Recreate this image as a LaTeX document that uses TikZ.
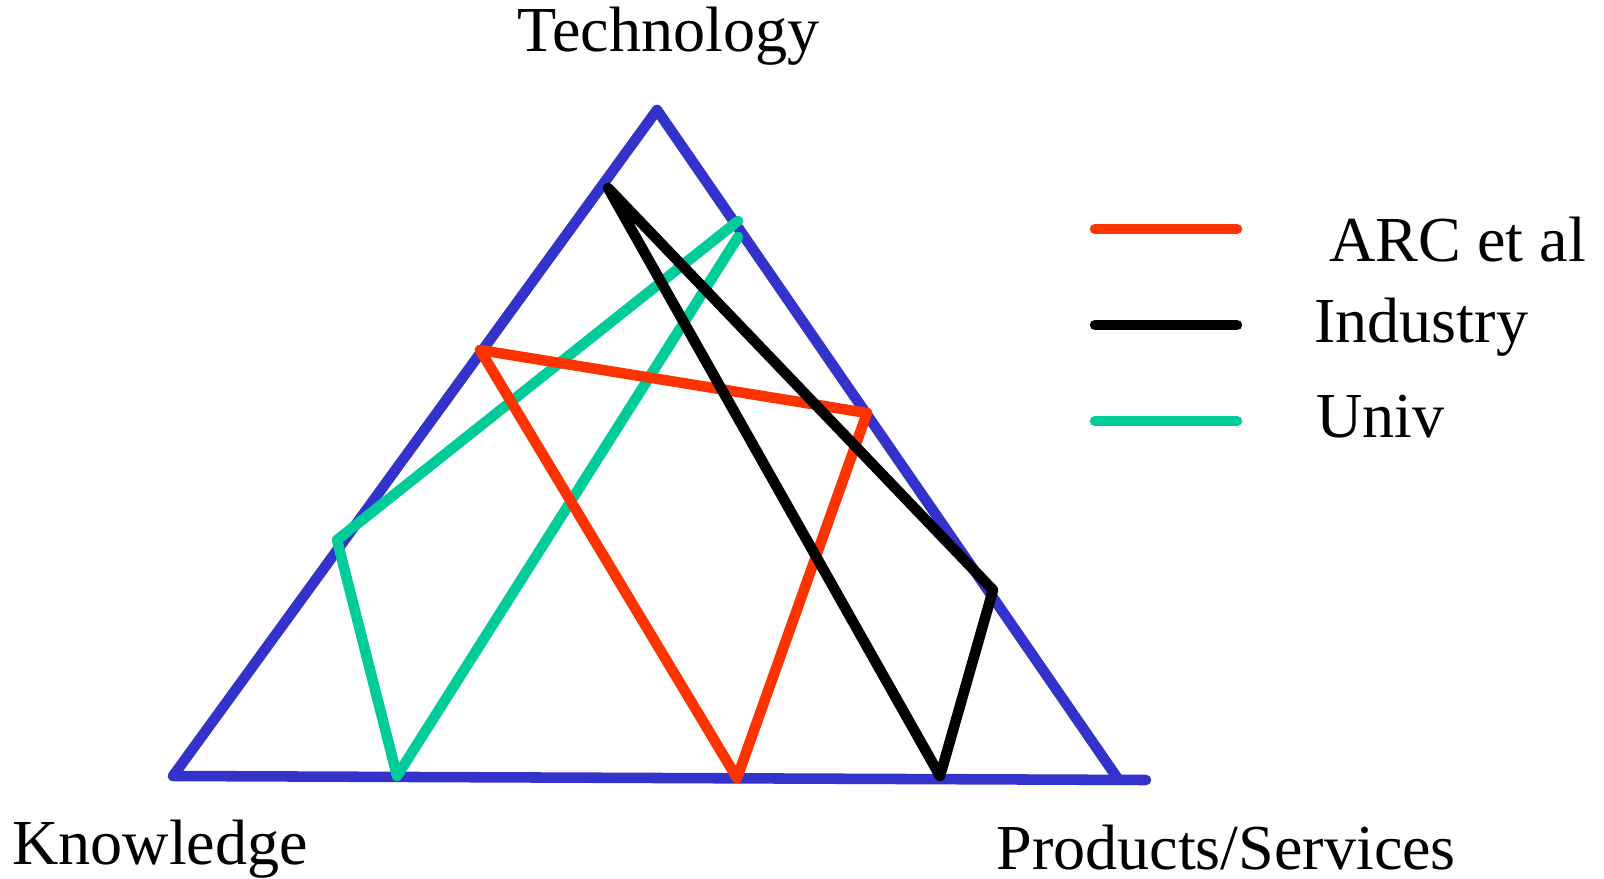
\documentclass[tikz,border=0pt]{standalone}
\usepackage{fontspec}
\setmainfont{Liberation Serif}
\usepackage{tikz}
\definecolor{sideblue}{RGB}{51,51,204}
\definecolor{arcred}{RGB}{255,51,0}
\definecolor{univgreen}{RGB}{0,204,153}
\tikzset{%
  side/.style = {draw=sideblue,line width=6pt,line cap=round,line join=round},
  arcline/.style = {draw=arcred,line width=6pt,line cap=round,line join=round},
  indline/.style = {draw=black,line width=6pt,line cap=round,line join=round},
  univline/.style = {draw=univgreen,line width=6pt,line cap=round,line join=round},
  lbl/.style = {inner sep=0pt,anchor=base west,font=\fontsize{36.5}{40}\selectfont}
}

\begin{document}
\begin{tikzpicture}[x=0.02cm,y=-0.02cm]
\useasboundingbox (0,0) rectangle (1604,878);
% corners of the triangle
\coordinate (top) at (657,110);
\coordinate (left) at (173,776);
\coordinate (right) at (1118,779);
\coordinate (end) at (1146,780);
% ARC et al
\coordinate (a1) at (480,350);
\coordinate (a2) at (867,413);
\coordinate (a3) at (737,778);
% Industry
\coordinate (i1) at (608,188);
\coordinate (i2) at (993,590);
\coordinate (i3) at (940,776);
% Univ
\coordinate (u1) at (738,221);
\coordinate (u2) at (337,540);
\coordinate (u3) at (397,776);
\coordinate (u4) at (738,237);

\draw[side] (left) -- (top) -- (right);
\draw[side] (left) -- (end);
\draw[univline] (u1) -- (u2) -- (u3) -- (u4);
\draw[arcline] (a1) -- (a2) -- (a3) -- cycle;
\draw[indline] (i1) -- (i2) -- (i3) -- cycle;

\node[lbl] (tech) at (517,52) {Technology};
\node[lbl] (know) at (12,864) {Knowledge};
\node[lbl] (prod) at (996,869) {Products/Services};

% legend
\coordinate (la) at (1095,229);
\coordinate (lb) at (1237,229);
\coordinate (lc) at (1095,325);
\coordinate (ld) at (1237,325);
\coordinate (le) at (1095,421);
\coordinate (lf) at (1237,421);
\draw[arcline] (la) -- (lb);
\draw[indline] (lc) -- (ld);
\draw[univline] (le) -- (lf);
\node[lbl] (arc) at (1329,262) {ARC et al};
\node[lbl] (ind) at (1314,342) {Industry};
\node[lbl] (univ) at (1316,437) {Univ};
\end{tikzpicture}
\end{document}
